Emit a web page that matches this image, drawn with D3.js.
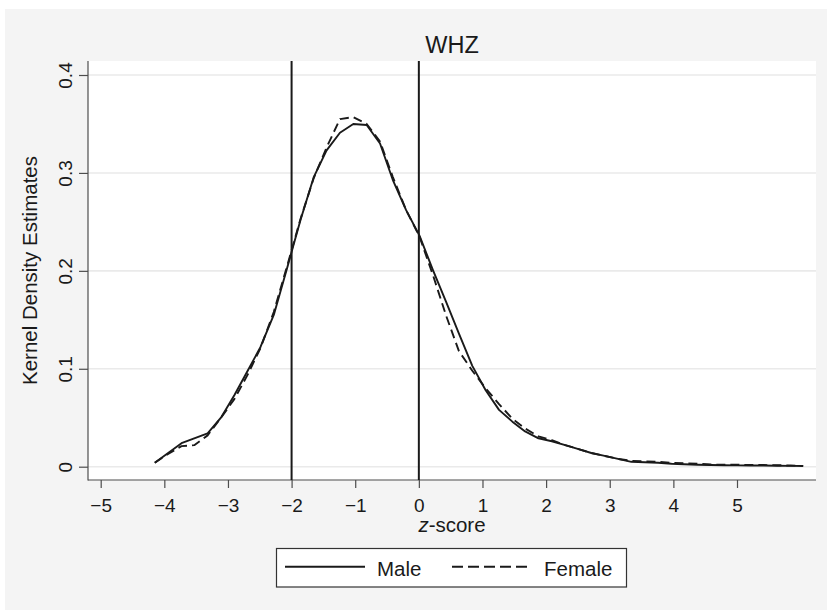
<!DOCTYPE html>
<html>
<head>
<meta charset="utf-8">
<script src="https://cdn.jsdelivr.net/npm/d3@7"></script>
<style>
  body { margin: 0; background: #ffffff; }
  svg { display: block; font-family: "Liberation Sans", Arial, Helvetica, sans-serif; }
</style>
</head>
<body>
<svg id="chart" width="827" height="611"></svg>
<script>
// kernel density estimates (50 point grid)
const zGrid = [
  -4.15, -3.94, -3.73, -3.53, -3.32, -3.11, -2.90, -2.69, -2.49, -2.28,
  -2.07, -1.86, -1.65, -1.45, -1.24, -1.03, -0.82, -0.61, -0.41, -0.20,
  0.01, 0.22, 0.43, 0.63, 0.84, 1.05, 1.26, 1.47, 1.67, 1.88,
  2.09, 2.30, 2.51, 2.71, 2.92, 3.13, 3.34, 3.55, 3.76, 3.97,
  4.17, 4.38, 4.59, 4.80, 5.01, 5.21, 5.42, 5.63, 5.84, 6.04
];
const maleDensity = [
  0.004, 0.014, 0.024, 0.029, 0.034, 0.050, 0.073, 0.098, 0.122, 0.155,
  0.203, 0.252, 0.296, 0.323, 0.341, 0.350, 0.349, 0.330, 0.293, 0.262,
  0.236, 0.201, 0.168, 0.136, 0.103, 0.078, 0.058, 0.046, 0.036, 0.029,
  0.026, 0.022, 0.018, 0.014, 0.011, 0.008, 0.005, 0.0045, 0.004, 0.003,
  0.0025, 0.002, 0.0017, 0.0015, 0.0014, 0.0013, 0.0012, 0.001, 0.0008, 0.0007
];
const femaleDensity = [
  0.004, 0.013, 0.021, 0.022, 0.032, 0.050, 0.069, 0.094, 0.121, 0.158,
  0.205, 0.253, 0.295, 0.326, 0.355, 0.357, 0.350, 0.332, 0.296, 0.262,
  0.235, 0.196, 0.154, 0.118, 0.098, 0.080, 0.064, 0.049, 0.039, 0.031,
  0.027, 0.022, 0.018, 0.014, 0.011, 0.008, 0.006, 0.0055, 0.005, 0.004,
  0.0035, 0.003, 0.0022, 0.002, 0.002, 0.0018, 0.0017, 0.0015, 0.0012, 0.0008
];
const cutoffs = [-2, 0];
const xTickValues = [-5, -4, -3, -2, -1, 0, 1, 2, 3, 4, 5];
const yTickValues = [0, 0.1, 0.2, 0.3, 0.4];
const seriesNames = ["Male", "Female"];
const chartTitle = "WHZ";

const svg = d3.select("#chart");
const ink = "#1a1a1a";
const axisInk = "#4d4d4d";

// plot region
const plot = { left: 88, right: 816, top: 61, bottom: 480 };

const x = d3.scaleLinear().domain([-5, 5]).range([100.7, 737]);
const y = d3.scaleLinear().domain([0, 0.4]).range([466.7, 75]);

// graph background
svg.append("rect")
  .attr("x", 5).attr("y", 9)
  .attr("width", 822).attr("height", 601)
  .style("fill", "#f4f4f4");

svg.append("rect")
  .attr("x", plot.left).attr("y", plot.top)
  .attr("width", plot.right - plot.left)
  .attr("height", plot.bottom - plot.top)
  .style("fill", "#ffffff");

// grid
svg.append("g")
  .selectAll("line")
  .data(yTickValues)
  .enter()
  .append("line")
  .attr("x1", plot.left).attr("x2", plot.right)
  .attr("y1", d => y(d)).attr("y2", d => y(d))
  .style("stroke", "#eaeaea")
  .style("stroke-width", 1.6);

// y axis
const yAxis = svg.append("g")
  .attr("transform", "translate(" + plot.left + ",0)")
  .call(d3.axisLeft(y).tickValues(yTickValues).tickSize(9).tickFormat(d3.format("~g")));
yAxis.select(".domain").remove();
yAxis.selectAll(".tick line").style("stroke", axisInk).style("stroke-width", 1.2);
yAxis.selectAll(".tick text")
  .attr("transform", "rotate(-90)")
  .attr("x", 0).attr("y", -16.3).attr("dy", null)
  .style("text-anchor", "middle")
  .style("font-size", "19px")
  .style("font-family", "'Liberation Sans', Arial, sans-serif")
  .style("fill", ink);

// x axis
const xAxis = svg.append("g")
  .attr("transform", "translate(0," + plot.bottom + ")")
  .call(d3.axisBottom(x).tickValues(xTickValues).tickSize(8));
xAxis.select(".domain").remove();
xAxis.selectAll(".tick line").style("stroke", axisInk).style("stroke-width", 1.2);
xAxis.selectAll(".tick text")
  .attr("y", 32.3).attr("dy", null)
  .style("font-size", "19px")
  .style("font-family", "'Liberation Sans', Arial, sans-serif")
  .style("fill", ink);

// axis lines
svg.append("line")
  .attr("x1", plot.left).attr("x2", plot.left)
  .attr("y1", plot.top).attr("y2", plot.bottom + 0.6)
  .style("stroke", axisInk).style("stroke-width", 1.2);
svg.append("line")
  .attr("x1", plot.left).attr("x2", plot.right)
  .attr("y1", plot.bottom).attr("y2", plot.bottom)
  .style("stroke", axisInk).style("stroke-width", 1.2);

// reference lines at -2 and 0
svg.append("g")
  .selectAll("line")
  .data(cutoffs)
  .enter()
  .append("line")
  .attr("x1", d => x(d)).attr("x2", d => x(d))
  .attr("y1", plot.top).attr("y2", plot.bottom)
  .style("stroke", ink)
  .style("stroke-width", 2);

// density curves
const lineFunction = d3.line()
  .x(function(d) { return x(d[0]); })
  .y(function(d) { return y(d[1]); })
  .curve(d3.curveLinear);

const series = [
  { name: seriesNames[0], values: maleDensity, dash: null },
  { name: seriesNames[1], values: femaleDensity, dash: "9,5" }
];

svg.append("g")
  .selectAll("path")
  .data(series)
  .enter()
  .append("path")
  .attr("d", function(s) {
    return lineFunction(zGrid.map((z, i) => [z, s.values[i]]));
  })
  .style("fill", "none")
  .style("stroke", ink)
  .style("stroke-width", 1.9)
  .style("stroke-linejoin", "round")
  .style("stroke-dasharray", s => s.dash);

// titles
svg.append("text")
  .attr("x", (plot.left + plot.right) / 2)
  .attr("y", 53.3)
  .style("text-anchor", "middle")
  .style("font-size", "23.5px")
  .style("fill", ink)
  .text(chartTitle);

const xTitle = svg.append("text")
  .attr("x", (plot.left + plot.right) / 2)
  .attr("y", 531.7)
  .style("text-anchor", "middle")
  .style("font-size", "20.5px")
  .style("fill", ink);
xTitle.append("tspan").style("font-style", "italic").text("z");
xTitle.append("tspan").text("-score");

svg.append("text")
  .attr("transform", "translate(36.7," + (plot.top + plot.bottom) / 2 + ") rotate(-90)")
  .style("text-anchor", "middle")
  .style("font-size", "20.5px")
  .style("fill", ink)
  .text("Kernel Density Estimates");

// legend
const legend = svg.append("g");
legend.append("rect")
  .attr("x", 276.5).attr("y", 548.5)
  .attr("width", 350).attr("height", 38.5)
  .style("fill", "#ffffff")
  .style("stroke", "#333333")
  .style("stroke-width", 1.2);

const legendItems = [
  { name: series[0].name, dash: series[0].dash, x0: 285, x1: 365, tx: 377 },
  { name: series[1].name, dash: "11,5", x0: 452, x1: 532, tx: 544 }
];
legend.selectAll("line")
  .data(legendItems)
  .enter()
  .append("line")
  .attr("x1", d => d.x0).attr("x2", d => d.x1)
  .attr("y1", 566.7).attr("y2", 566.7)
  .style("stroke", ink)
  .style("stroke-width", 1.9)
  .style("stroke-dasharray", d => d.dash);
legend.selectAll("text")
  .data(legendItems)
  .enter()
  .append("text")
  .attr("x", d => d.tx)
  .attr("y", 575.7)
  .style("font-size", "20.5px")
  .style("fill", ink)
  .text(d => d.name);
</script>
</body>
</html>
